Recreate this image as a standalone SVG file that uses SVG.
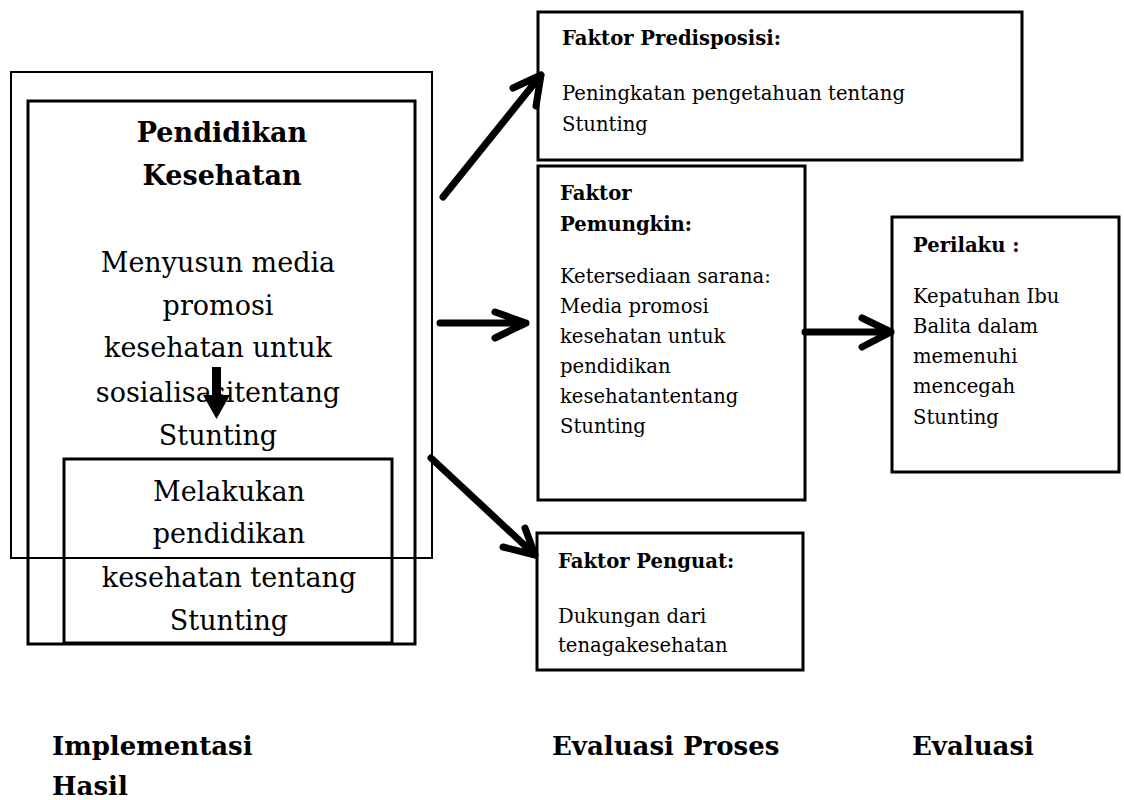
<svg xmlns="http://www.w3.org/2000/svg" width="1124" height="800" viewBox="0 0 1124 800">
<style>
  .box { fill: none; stroke: #000; }
  .t { font-family: "DejaVu Serif", "Liberation Serif", serif; fill: #000; }
  .big { font-size: 27px; text-anchor: middle; }
  .bigb { font-size: 27px; font-weight: bold; text-anchor: middle; }
  .sm { font-size: 19.6px; }
  .smb { font-size: 19.6px; font-weight: bold; }
  .lab { font-size: 26px; font-weight: bold; }
  .arr { fill: none; stroke: #000; stroke-width: 7; stroke-linecap: round; stroke-linejoin: round; }
</style>
<rect width="1124" height="800" fill="#fff"/>

<g id="outer-box">
  <rect class="box" x="11" y="72" width="421" height="486" stroke-width="2"/>
</g>
<g id="pendidikan-kesehatan">
  <rect class="box" x="28" y="101" width="387" height="543" stroke-width="3"/>
  <text class="t bigb" x="222" y="142">Pendidikan</text>
  <text class="t bigb" x="222" y="185">Kesehatan</text>
  <text class="t big" x="218" y="272">Menyusun media</text>
  <text class="t big" x="218" y="315">promosi</text>
  <text class="t big" x="218" y="357">kesehatan untuk</text>
  <text class="t big" x="218" y="402">sosialisasitentang</text>
  <text class="t big" x="218" y="445">Stunting</text>
</g>
<g id="melakukan">
  <rect class="box" x="64" y="459" width="328" height="184" stroke-width="3"/>
  <text class="t big" x="229" y="501">Melakukan</text>
  <text class="t big" x="229" y="543">pendidikan</text>
  <text class="t big" x="229" y="587">kesehatan tentang</text>
  <text class="t big" x="229" y="630">Stunting</text>
</g>

<g id="faktor-predisposisi">
  <rect class="box" x="538" y="12" width="484" height="148" stroke-width="3"/>
  <text class="t smb" x="562" y="45">Faktor Predisposisi:</text>
  <text class="t sm" x="562" y="100">Peningkatan pengetahuan tentang</text>
  <text class="t sm" x="562" y="131">Stunting</text>
</g>
<g id="faktor-pemungkin">
  <rect class="box" x="538" y="166" width="267" height="334" stroke-width="3"/>
  <text class="t smb" x="560" y="200">Faktor</text>
  <text class="t smb" x="560" y="231">Pemungkin:</text>
  <text class="t sm" x="560" y="283">Ketersediaan sarana:</text>
  <text class="t sm" x="560" y="313">Media promosi</text>
  <text class="t sm" x="560" y="343">kesehatan untuk</text>
  <text class="t sm" x="560" y="373">pendidikan</text>
  <text class="t sm" x="560" y="403">kesehatantentang</text>
  <text class="t sm" x="560" y="433">Stunting</text>
</g>
<g id="faktor-penguat">
  <rect class="box" x="537" y="533" width="266" height="137" stroke-width="3"/>
  <text class="t smb" x="558" y="568">Faktor Penguat:</text>
  <text class="t sm" x="558" y="623">Dukungan dari</text>
  <text class="t sm" x="558" y="652">tenagakesehatan</text>
</g>
<g id="perilaku">
  <rect class="box" x="892" y="217" width="227" height="255" stroke-width="3"/>
  <text class="t smb" x="913" y="252">Perilaku :</text>
  <text class="t sm" x="913" y="303">Kepatuhan Ibu</text>
  <text class="t sm" x="913" y="333">Balita dalam</text>
  <text class="t sm" x="913" y="363">memenuhi</text>
  <text class="t sm" x="913" y="393">mencegah</text>
  <text class="t sm" x="913" y="424">Stunting</text>
</g>

<g id="connectors">
  <rect x="212" y="367" width="9" height="29" fill="#000"/>
  <polygon points="203,395 230,395 216.5,419" fill="#000"/>
  <path class="arr" d="M443,197 L541,75 M513,88 L541,75 L536,106"/>
  <path class="arr" d="M440,323 L526,323 M495,312 L526,323 L495,338"/>
  <path class="arr" d="M431,458 L535,555 M525,528 L535,555 L503,547"/>
  <path class="arr" d="M805,332 L891,332 M862,318 L891,332 L862,347"/>
</g>

<g id="labels">
  <text class="t lab" x="52" y="755">Implementasi</text>
  <text class="t lab" x="52" y="795">Hasil</text>
  <text class="t lab" x="552" y="755">Evaluasi Proses</text>
  <text class="t lab" x="912" y="755">Evaluasi</text>
</g>
</svg>
